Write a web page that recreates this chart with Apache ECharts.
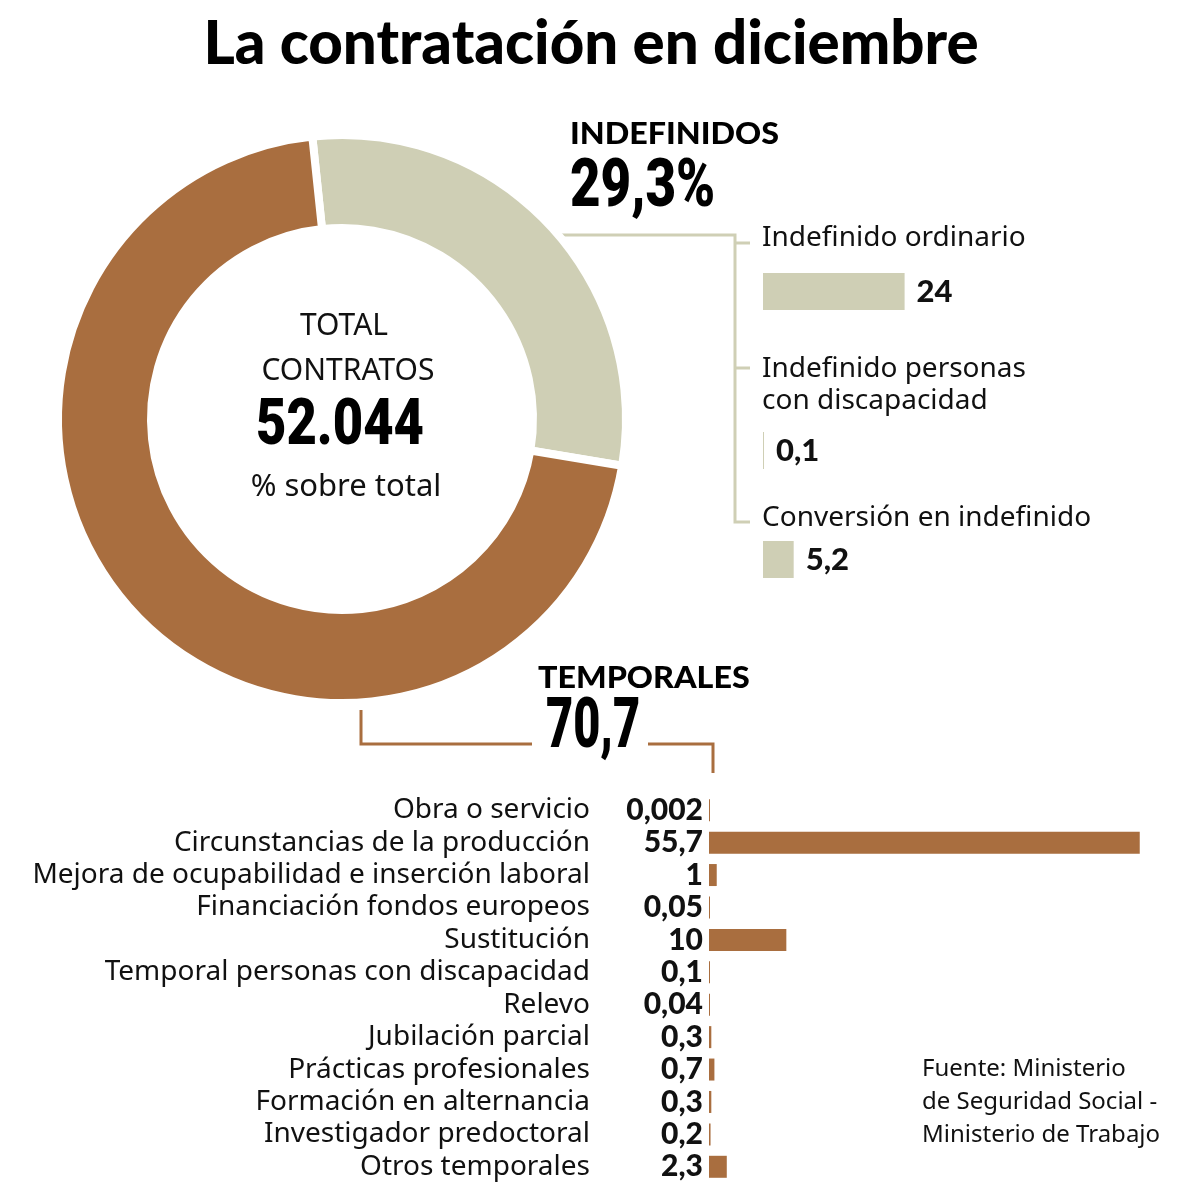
<!DOCTYPE html>
<html><head><meta charset="utf-8">
<script src="https://cdn.jsdelivr.net/npm/echarts@6/dist/echarts.min.js"></script>
<style>html,body{margin:0;padding:0;background:#fff}#c{width:1200px;height:1200px}</style>
</head><body><div id="c"></div>
<script>
const titleText = 'La contratación en diciembre';
const shareNames = ['INDEFINIDOS', 'TEMPORALES'];
const shareVals = [29.3, 70.7];
const totalLines = ['TOTAL', 'CONTRATOS'];
const totalValue = '52.044';
const totalNote = '% sobre total';
const indefCats = ['Indefinido ordinario', 'Indefinido personas\ncon discapacidad', 'Conversión en indefinido'];
const indefVals = [24, 0.1, 5.2];
const tempCats = ['Obra o servicio', 'Circunstancias de la producción', 'Mejora de ocupabilidad e inserción laboral',
  'Financiación fondos europeos', 'Sustitución', 'Temporal personas con discapacidad', 'Relevo',
  'Jubilación parcial', 'Prácticas profesionales', 'Formación en alternancia', 'Investigador predoctoral', 'Otros temporales'];
const tempVals = [0.002, 55.7, 1, 0.05, 10, 0.1, 0.04, 0.3, 0.7, 0.3, 0.2, 2.3];
const sourceText = 'Fuente: Ministerio\nde Seguridad Social -\nMinisterio de Trabajo';

const BROWN = '#A96E3F', LIGHT = '#CFCFB5', INK = '#111';
const BODY = '"Noto Sans", "Open Sans", sans-serif';
const HEAVY = 'Lato, "Noto Sans", sans-serif';
const DISP = 'Roboto, "Noto Sans", sans-serif';
const fmt = v => String(v).replace('.', ',');

const chart = echarts.init(document.getElementById('c'), null, {renderer: 'canvas'});

const indefTops = [273, 432, 541];
const indefLabelY = [238, 385, 518];
const grids = [{left: 709, top: 794, width: 464, height: 389}];
const xAxes = [{gridIndex: 0, type: 'value', min: 0, max: 60, show: false}];
const yAxes = [{gridIndex: 0, type: 'category', inverse: true, data: tempCats,
  axisLine: {show: false}, axisTick: {show: false}, splitLine: {show: false},
  axisLabel: {interval: 0, margin: 119, fontFamily: BODY, fontSize: 28, color: INK}}];
const series = [];
series.push({type: 'bar', xAxisIndex: 0, yAxisIndex: 0, data: tempVals, barWidth: 22, barMinHeight: 1,
  itemStyle: {color: BROWN},
  label: {show: true, position: 'left', distance: 6, formatter: p => fmt(p.value),
    fontFamily: HEAVY, fontWeight: 900, fontSize: 30, color: INK}});
indefVals.forEach((v, i) => {
  grids.push({left: 763, top: indefTops[i], width: 177, height: 37});
  xAxes.push({gridIndex: i + 1, type: 'value', min: 0, max: 30, show: false});
  yAxes.push({gridIndex: i + 1, type: 'category', data: [indefCats[i]], show: false});
  series.push({type: 'bar', xAxisIndex: i + 1, yAxisIndex: i + 1, data: [v], barWidth: 37, barMinHeight: 1,
    itemStyle: {color: LIGHT},
    label: {show: true, position: 'right', distance: 12, formatter: p => fmt(p.value),
      fontFamily: HEAVY, fontWeight: 900, fontSize: 31, color: INK}});
});

series.push({type: 'pie', center: [342, 419], radius: [191, 284], startAngle: 96, clockwise: true,
  silent: true, label: {show: false}, labelLine: {show: false},
  itemStyle: {borderColor: '#fff', borderWidth: 8},
  data: shareVals.map((v, i) => ({name: shareNames[i], value: v, itemStyle: {color: i === 0 ? LIGHT : BROWN}}))});

const graphic = [
  {type: 'text', x: 591, y: 45,
    style: {text: titleText, font: '900 60px ' + HEAVY, fill: '#000', textAlign: 'center', textVerticalAlign: 'middle'}},
  {type: 'text', x: 570, y: 134, scaleX: 1.04, style: {text: shareNames[0], font: '900 31px ' + HEAVY, fill: '#000', textVerticalAlign: 'middle'}},
  {type: 'text', x: 570, y: 189, scaleX: 0.8,
    style: {text: fmt(shareVals[0]) + '%', font: '900 66px ' + DISP, fill: '#000', textVerticalAlign: 'middle'}},
  {type: 'text', x: 538, y: 678, scaleX: 1.04, style: {text: shareNames[1], font: '900 31px ' + HEAVY, fill: '#000', textVerticalAlign: 'middle'}},
  {type: 'text', x: 546, y: 729, scaleX: 0.67,
    style: {text: fmt(shareVals[1]), font: '900 70px ' + DISP, fill: '#000', textVerticalAlign: 'middle'}},
  {type: 'text', x: 344, y: 326, style: {text: totalLines[0], font: '30px ' + BODY, fill: INK, textAlign: 'center', textVerticalAlign: 'middle'}},
  {type: 'text', x: 348, y: 371, style: {text: totalLines[1], font: '30px ' + BODY, fill: INK, textAlign: 'center', textVerticalAlign: 'middle'}},
  {type: 'text', x: 340, y: 428, scaleX: 0.82,
    style: {text: totalValue, font: '900 64px ' + DISP, fill: '#000', textAlign: 'center', textVerticalAlign: 'middle'}},
  {type: 'text', x: 346, y: 487, style: {text: totalNote, font: '31px ' + BODY, fill: INK, textAlign: 'center', textVerticalAlign: 'middle'}},
  {type: 'text', x: 922, y: 1102, style: {text: sourceText, font: '24px ' + BODY, fill: INK, lineHeight: 33, textVerticalAlign: 'middle'}},
  {type: 'polyline', shape: {points: [[560, 235], [735, 235], [735, 522], [750, 522]]}, style: {stroke: LIGHT, lineWidth: 3, fill: null}},
  {type: 'polyline', shape: {points: [[735, 243], [750, 243]]}, style: {stroke: LIGHT, lineWidth: 3}},
  {type: 'polyline', shape: {points: [[735, 368], [750, 368]]}, style: {stroke: LIGHT, lineWidth: 3}},
  {type: 'polyline', shape: {points: [[361, 710], [361, 744], [532, 744]]}, style: {stroke: BROWN, lineWidth: 3, fill: null}},
  {type: 'polyline', shape: {points: [[648, 744], [713, 744], [713, 773]]}, style: {stroke: BROWN, lineWidth: 3, fill: null}}
];
indefCats.forEach((n, i) => {
  graphic.push({type: 'text', x: 762, y: indefLabelY[i],
    style: {text: n, font: '28px ' + BODY, fill: INK, lineHeight: 32, textVerticalAlign: 'middle'}});
});

chart.setOption({animation: false, backgroundColor: '#fff', grid: grids, xAxis: xAxes, yAxis: yAxes, series, graphic});
</script></body></html>
